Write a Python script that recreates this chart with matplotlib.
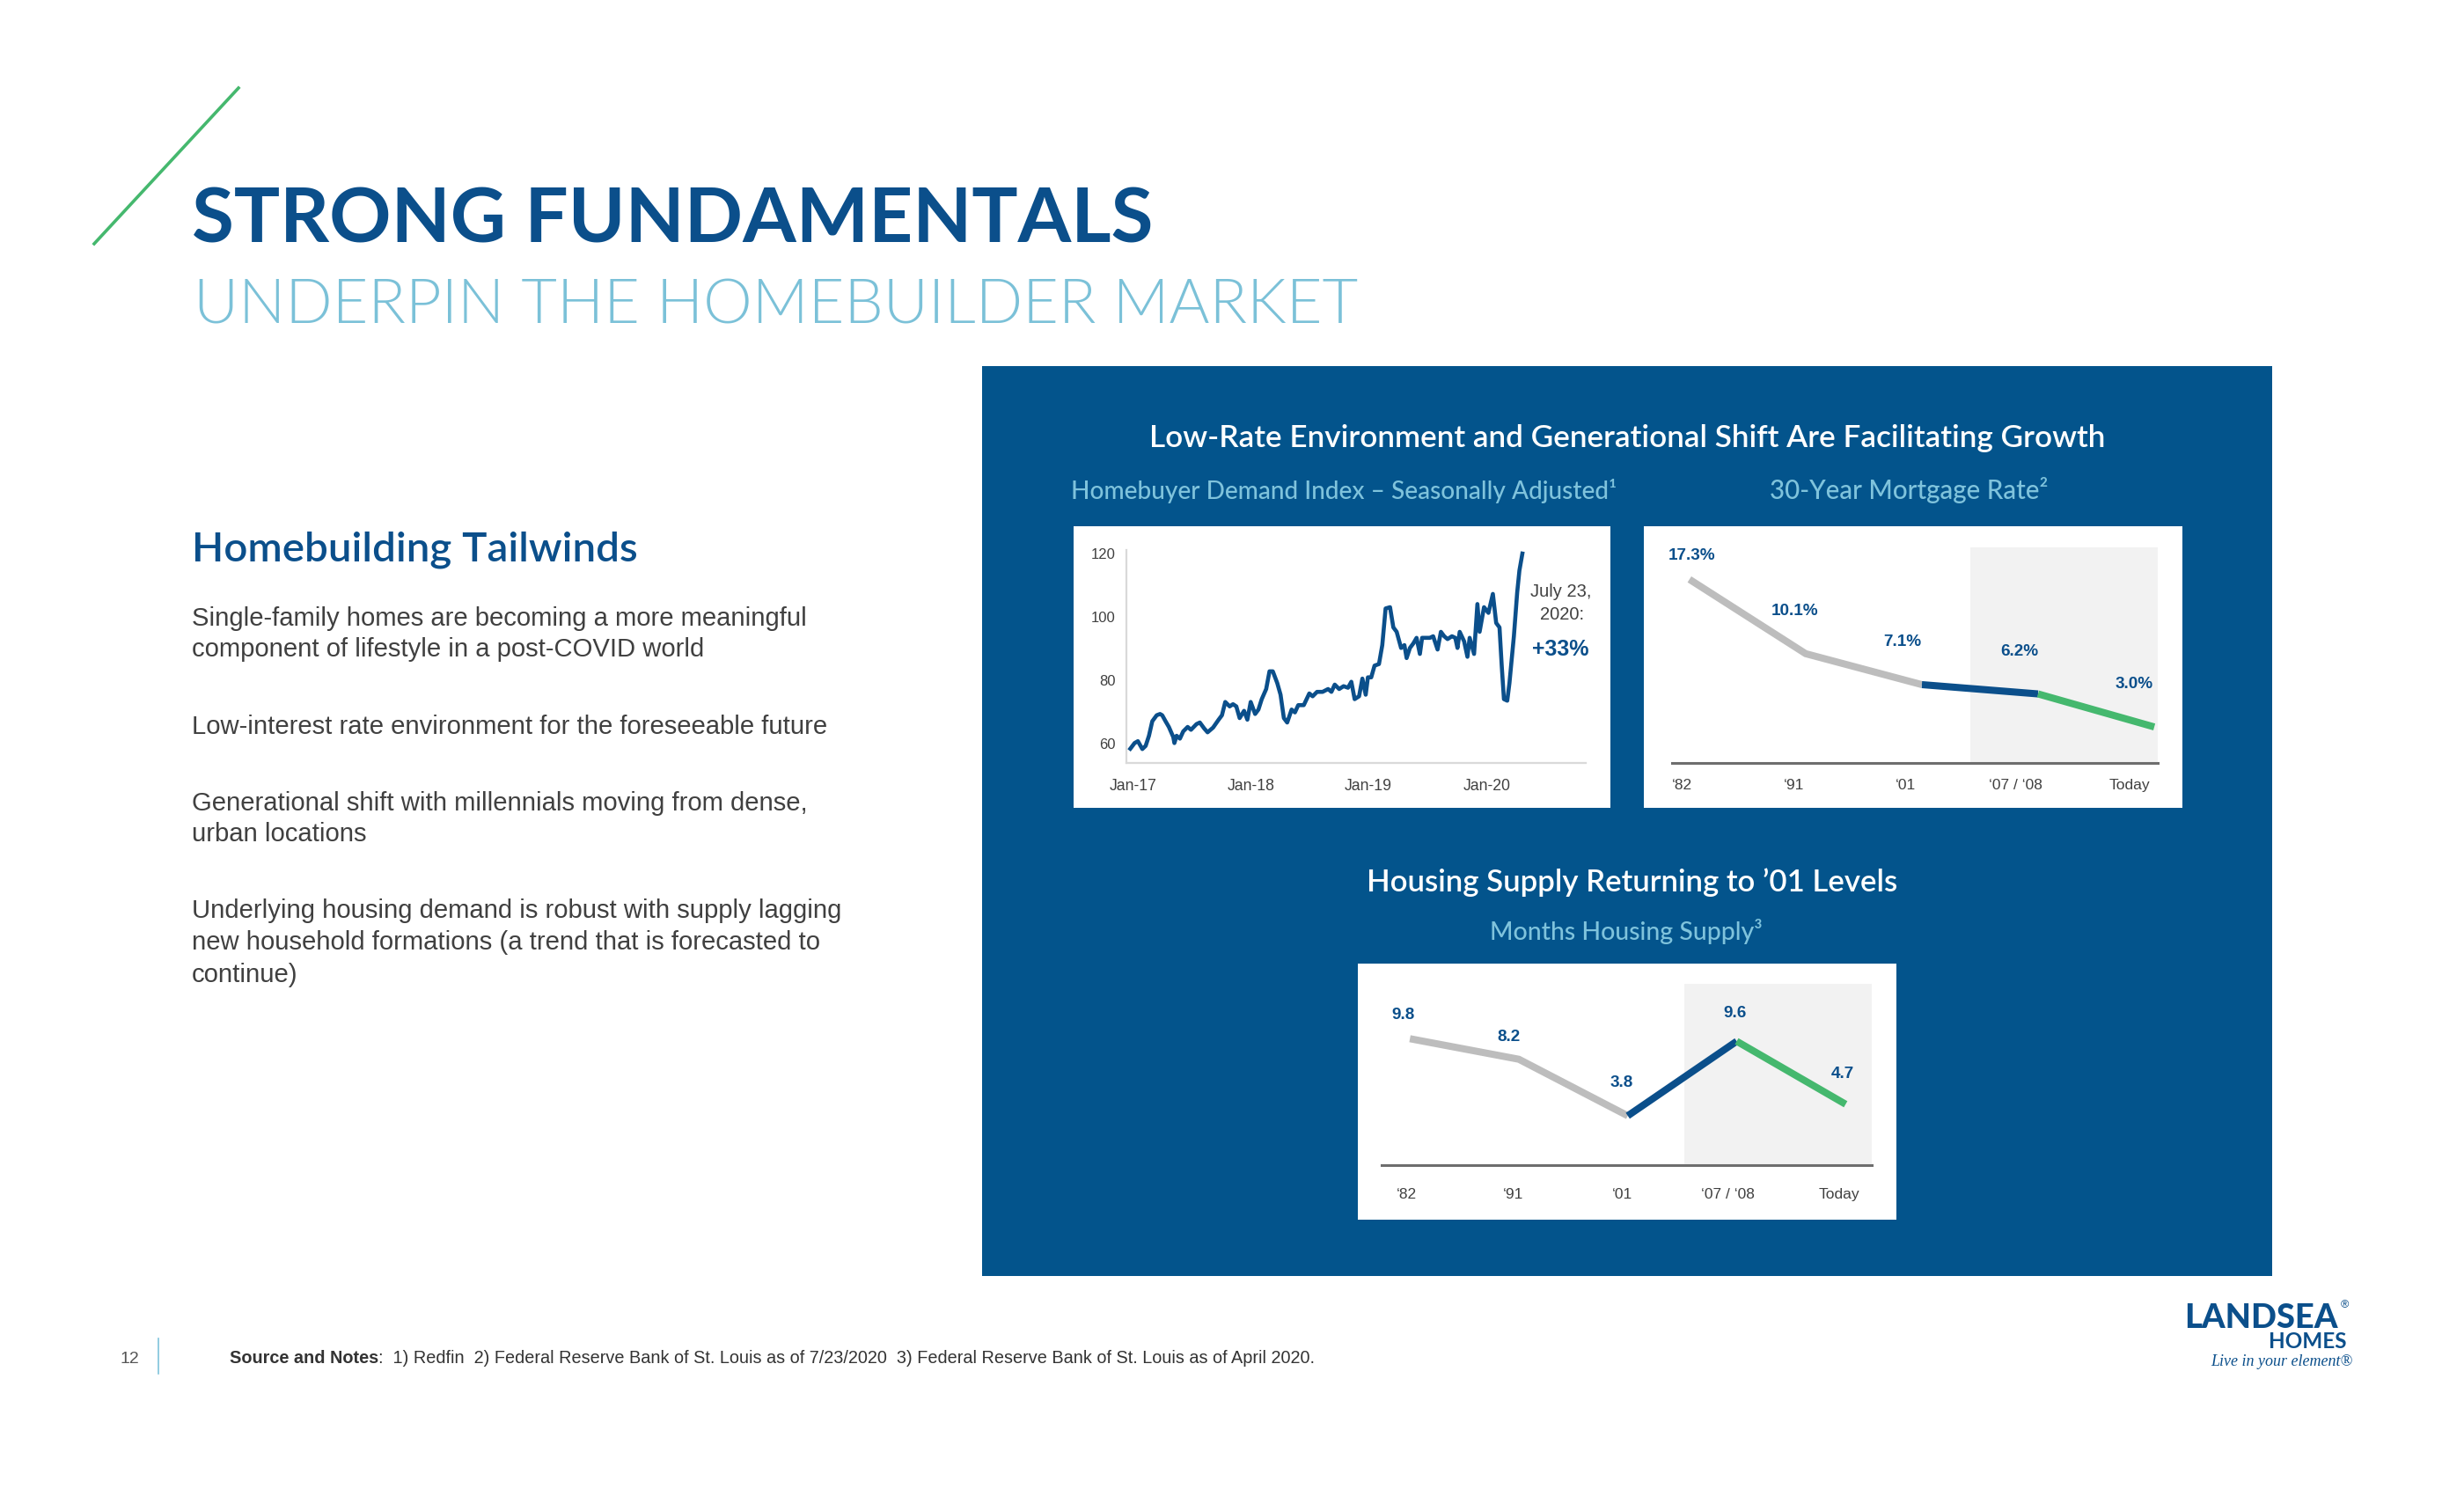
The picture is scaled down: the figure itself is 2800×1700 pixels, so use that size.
import matplotlib
matplotlib.use("Agg")
import matplotlib.pyplot as plt
from matplotlib.patches import Rectangle
from matplotlib.lines import Line2D

# ---------------- data ----------------
demand_year = [2017.00, 2017.02, 2017.05, 2017.08, 2017.12, 2017.15, 2017.18, 2017.21, 2017.25, 2017.28,
               2017.30, 2017.33, 2017.36, 2017.40, 2017.41, 2017.43, 2017.46, 2017.49, 2017.53, 2017.56,
               2017.61, 2017.64, 2017.68, 2017.71, 2017.76, 2017.81, 2017.84, 2017.87, 2017.91, 2017.94,
               2017.97, 2018.00, 2018.04, 2018.07, 2018.10, 2018.14, 2018.17, 2018.20, 2018.24, 2018.27,
               2018.30, 2018.34, 2018.37, 2018.40, 2018.43, 2018.47, 2018.50, 2018.53, 2018.58, 2018.63,
               2018.66, 2018.70, 2018.75, 2018.80, 2018.83, 2018.86, 2018.90, 2018.94, 2018.98, 2019.01,
               2019.04, 2019.08, 2019.11, 2019.14, 2019.16, 2019.19, 2019.22, 2019.26, 2019.29, 2019.32,
               2019.36, 2019.39, 2019.42, 2019.46, 2019.49, 2019.51, 2019.54, 2019.57, 2019.60, 2019.63,
               2019.65, 2019.69, 2019.72, 2019.75, 2019.79, 2019.82, 2019.85, 2019.88, 2019.92, 2019.95,
               2019.97, 2019.99, 2020.03, 2020.06, 2020.08, 2020.12, 2020.15, 2020.17, 2020.21, 2020.25,
               2020.29, 2020.32, 2020.35, 2020.37, 2020.39, 2020.42, 2020.44, 2020.48, 2020.51, 2020.53,
               2020.56]
demand_index = [57.8, 58.7, 60.1, 60.7, 58.2, 59.2, 62.4, 67.0, 68.9, 69.3,
                68.9, 67.0, 65.2, 62.0, 60.1, 62.4, 61.5, 63.8, 65.2, 64.3,
                66.1, 66.6, 64.7, 63.5, 65.0, 67.5, 68.9, 73.1, 71.7, 72.4,
                71.7, 68.0, 70.3, 67.5, 73.1, 69.3, 70.7, 74.0, 77.2, 82.8,
                82.8, 79.1, 75.4, 68.0, 66.6, 70.7, 69.8, 72.1, 72.1, 75.8,
                74.9, 76.3, 76.3, 77.2, 76.3, 78.6, 77.2, 78.1, 77.6, 79.5,
                74.0, 74.9, 80.5, 75.4, 80.9, 80.9, 84.6, 85.1, 91.1, 102.7,
                103.1, 96.7, 95.3, 90.2, 91.1, 87.0, 90.2, 91.6, 93.4, 88.3,
                93.4, 93.4, 93.4, 93.9, 89.7, 95.3, 93.9, 93.0, 93.9, 93.4,
                90.2, 95.3, 92.3, 87.4, 93.4, 88.3, 104.1, 95.3, 103.1, 101.3,
                107.3, 98.1, 96.7, 84.6, 74.0, 73.5, 79.1, 93.9, 107.8, 114.7,
                120.7]
demand_tick_pos = [2017.04, 2018.10, 2019.16, 2020.24]
demand_tick_labels = ["Jan-17", "Jan-18", "Jan-19", "Jan-20"]
demand_yticks = [60, 80, 100, 120]

period_labels = ["\u201882", "\u201891", "\u201801", "\u201807 / \u201808", "Today"]
mortgage_rate = [17.3, 10.1, 7.1, 6.2, 3.0]
mortgage_text = ["17.3%", "10.1%", "7.1%", "6.2%", "3.0%"]
months_supply = [9.8, 8.2, 3.8, 9.6, 4.7]
supply_text = ["9.8", "8.2", "3.8", "9.6", "4.7"]

bullets = [
    ["Single-family homes are becoming a more meaningful",
     "component of lifestyle in a post-COVID world"],
    ["Low-interest rate environment for the foreseeable future"],
    ["Generational shift with millennials moving from dense,",
     "urban locations"],
    ["Underlying housing demand is robust with supply lagging",
     "new household formations (a trend that is forecasted to",
     "continue)"],
]

# ---------------- style ----------------
NAVY = "#0B4F8B"
PANEL = "#03548C"
LIGHT = "#7FC3DC"
GREEN = "#45B86E"
GRAY = "#BDBDBD"
SHADE = "#F2F2F2"
TXT = "#404040"
HEAD = "Lato"
SANS = ["Liberation Sans", "DejaVu Sans"]

W, H = 2800, 1700
fig = plt.figure(figsize=(W / 100, H / 100), dpi=100)
fig.patch.set_facecolor("white")
renderer = fig.canvas.get_renderer()


def box(x0, y0, x1, y1):
    return [x0 / W, 1 - y1 / H, (x1 - x0) / W, (y1 - y0) / H]


def rect(x0, y0, x1, y1, color, z):
    fig.add_artist(Rectangle((x0 / W, 1 - y1 / H), (x1 - x0) / W, (y1 - y0) / H,
                             transform=fig.transFigure, color=color, zorder=z, lw=0))


def ftext(x, y, s, **kw):
    return fig.text(x / W, 1 - y / H, s, **kw)


def fit(x, y, s, width, size0, **kw):
    t = ftext(x, y, s, fontsize=size0, **kw)
    w = t.get_window_extent(renderer).width
    size = size0 * width / w
    t.set_fontsize(size)
    return size


# ---------------- header ----------------
fig.add_artist(Line2D([107 / W, 271 / W], [1 - 277 / H, 1 - 100 / H],
                      transform=fig.transFigure, color=GREEN, lw=2.6))
fit(218, 276, "STRONG FUNDAMENTALS", 1092, 66, family=HEAD, fontweight="bold",
    color=NAVY, va="baseline")
fit(220, 368, "UNDERPIN THE HOMEBUILDER MARKET", 1323, 56, family=HEAD,
    fontweight=300, color="#7BC1D8", va="baseline")

# ---------------- left text ----------------
fit(218, 638, "Homebuilding Tailwinds", 507, 34, family=HEAD, fontweight="semibold",
    color=NAVY, va="baseline")
body_size = None
baselines = [[711, 746], [834], [921, 956], [1043, 1079, 1116]]
for para, ys in zip(bullets, baselines):
    for line, yb in zip(para, ys):
        if body_size is None:
            body_size = fit(218, yb, line, 698, 20, family=SANS, color=TXT, va="baseline")
        else:
            ftext(218, yb, line, fontsize=body_size, family=SANS, color=TXT, va="baseline")

# ---------------- panel ----------------
rect(1116, 416, 2582, 1450, PANEL, -3)
rect(1220, 598, 1830, 918, "white", -2)
rect(1868, 598, 2480, 918, "white", -2)
rect(1543, 1095, 2155, 1386, "white", -2)

fit(1849, 508, "Low-Rate Environment and Generational Shift Are Facilitating Growth", 1088, 24,
    family=HEAD, fontweight="semibold", color="white", ha="center", va="baseline")
fit(1527, 567, "Homebuyer Demand Index \u2013 Seasonally Adjusted\u00b9", 621, 19,
    family=HEAD, fontweight="medium", color=LIGHT, ha="center", va="baseline")
fit(2169, 567, "30-Year Mortgage Rate\u00b2", 316, 19,
    family=HEAD, fontweight="medium", color=LIGHT, ha="center", va="baseline")
fit(1855, 1013, "Housing Supply Returning to \u201901 Levels", 604, 24,
    family=HEAD, fontweight="semibold", color="white", ha="center", va="baseline")
fit(1848, 1068, "Months Housing Supply\u00b3", 310, 19,
    family=HEAD, fontweight="medium", color=LIGHT, ha="center", va="baseline")

# ---------------- chart 1: demand index ----------------
ax1 = fig.add_axes(box(1280, 625, 1802, 867))
ax1.set_facecolor("none")
ax1.plot(demand_year, demand_index, color=NAVY, lw=3.3, solid_joinstyle="round",
         solid_capstyle="butt", clip_on=False)
ax1.set_xlim(2016.976, 2021.13)
ax1.set_ylim(53.8, 121.2)
for s in ["top", "right"]:
    ax1.spines[s].set_visible(False)
for s in ["left", "bottom"]:
    ax1.spines[s].set_color("#D9D9D9")
    ax1.spines[s].set_linewidth(1.6)
ax1.set_yticks(demand_yticks)
ax1.set_yticklabels([str(v) for v in demand_yticks])
ax1.set_xticks(demand_tick_pos)
ax1.set_xticklabels(demand_tick_labels)
ax1.tick_params(axis="y", length=0, pad=9, labelsize=12, labelcolor=TXT)
ax1.tick_params(axis="x", length=0, pad=13, labelsize=12.7, labelcolor=TXT)
for lab in ax1.get_xticklabels() + ax1.get_yticklabels():
    lab.set_family(SANS)
ftext(1774, 673, "July 23,", fontsize=14.5, family=SANS, color=TXT, ha="center", va="center")
ftext(1775, 698, "2020:", fontsize=14.5, family=SANS, color=TXT, ha="center", va="center")
ftext(1773, 738, "+33%", fontsize=18, family=SANS, fontweight="bold", color=NAVY,
      ha="center", va="center")


# ---------------- charts 2 & 3 ----------------
def segment_chart(ax, values, texts, xlim, ylim, shade_from, offsets, tick_pos, pad):
    ax.set_facecolor("none")
    xs = list(range(len(values)))
    ax.axvspan(shade_from, xlim[1], color=SHADE, zorder=0, lw=0)
    runs = [(0, 3, GRAY), (2, 4, NAVY), (3, 5, GREEN)]
    for a, b, c in runs:
        ax.plot(xs[a:b], values[a:b], color=c, lw=5.8, solid_capstyle="butt",
                solid_joinstyle="miter", zorder=2, clip_on=False)
    for x, v, t, (dx, dy) in zip(xs, values, texts, offsets):
        ax.annotate(t, (x, v), xytext=(dx, dy), textcoords="offset points",
                    ha="center", va="center", fontsize=13.6, fontweight="bold",
                    color=NAVY, family=SANS, annotation_clip=False)
    ax.set_xlim(*xlim)
    ax.set_ylim(*ylim)
    for s in ["top", "right", "left"]:
        ax.spines[s].set_visible(False)
    ax.spines["bottom"].set_color("#6E6E6E")
    ax.spines["bottom"].set_linewidth(2.2)
    ax.spines["bottom"].set_zorder(3)
    ax.set_yticks([])
    ax.set_xticks(tick_pos)
    ax.set_xticklabels(period_labels)
    ax.tick_params(axis="x", length=0, pad=pad, labelsize=12.5, labelcolor=TXT)
    for lab in ax.get_xticklabels():
        lab.set_family(SANS)


ax2 = fig.add_axes(box(1900, 622, 2452, 867))
segment_chart(ax2, mortgage_rate, mortgage_text, (-0.15, 4.03), (-0.49, 20.4), 2.42,
              [(2, 19.5), (-8.6, 34.6), (-16, 34.6), (-15, 34.6), (-16.5, 35)],
              [-0.06, 0.90, 1.86, 2.81, 3.79], 13)

ax3 = fig.add_axes(box(1570, 1118, 2127, 1324))
segment_chart(ax3, months_supply, supply_text, (-0.26, 4.24), (-0.04, 14.07), 2.52,
              [(-5.3, 19.2), (-8.2, 18), (-5.2, 26.9), (-1.7, 22.8), (-2.3, 24.5)],
              [-0.03, 0.95, 1.95, 2.92, 3.94], 18.5)

# ---------------- footer ----------------
ftext(147, 1549, "12", fontsize=14, family=SANS, color="#555555", ha="center", va="baseline")
fig.add_artist(Line2D([180 / W, 180 / W], [1 - 1521 / H, 1 - 1561 / H],
                      transform=fig.transFigure, color=LIGHT, lw=1.2))
fs = 13.5
tb = ftext(261, 1549, "Source and Notes", fontsize=fs, family=SANS, fontweight="bold",
           color="#333333", va="baseline")
rest = ":  1) Redfin  2) Federal Reserve Bank of St. Louis as of 7/23/2020  3) Federal Reserve Bank of St. Louis as of April 2020."
wb = tb.get_window_extent(renderer).width
tr = ftext(261 + wb, 1549, rest, fontsize=fs, family=SANS, color="#333333", va="baseline")
wr = tr.get_window_extent(renderer).width
k = 1229 / (wb + wr)
tb.set_fontsize(fs * k)
tr.set_fontsize(fs * k)
wb = tb.get_window_extent(renderer).width
tr.set_x((261 + wb) / W)

# ---------------- logo ----------------
fit(2482, 1509, "LANDSEA", 175, 27, family=HEAD, fontweight="black", color=NAVY,
    ha="left", va="baseline")
ftext(2660, 1486, "\u00ae", fontsize=9, family=SANS, color=NAVY, ha="left", va="baseline")
ftext(2666, 1532, "HOMES", fontsize=17.5, family=HEAD, fontweight="bold", color=NAVY,
      ha="right", va="baseline")
ftext(2673, 1552, "Live in your element\u00ae", fontsize=13, family=["Liberation Serif", "DejaVu Serif"],
      style="italic", color=NAVY, ha="right", va="baseline")

fig.savefig("out.png", dpi=100, facecolor="white")
